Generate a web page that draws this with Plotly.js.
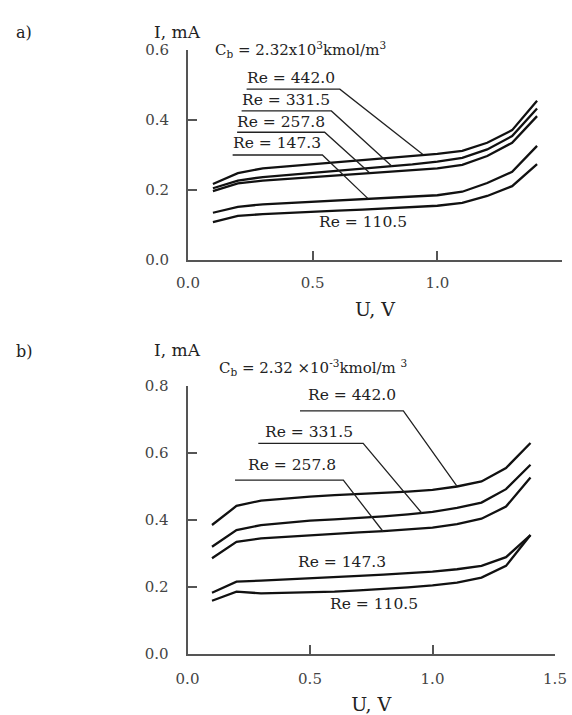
<!DOCTYPE html>
<html>
<head>
<meta charset="utf-8">
<script src="https://cdn.plot.ly/plotly-3.0.1.min.js"></script>
<style>html,body{margin:0;padding:0;background:#fff;}#chart{width:572px;height:715px;}</style>
</head>
<body>
<div id="chart"></div>
<script>
// ---- data ----
const voltage = [0.1, 0.2, 0.3, 0.4, 0.5, 0.6, 0.7, 0.8, 0.9, 1.0, 1.1, 1.2, 1.3, 1.4];
const reynolds = ["442.0", "331.5", "257.8", "147.3", "110.5"];

// panel a) current, mA
const a_Re442 = [0.217, 0.248, 0.262, 0.268, 0.274, 0.280, 0.286, 0.292, 0.298, 0.303, 0.312, 0.335, 0.371, 0.455];
const a_Re331 = [0.205, 0.227, 0.237, 0.243, 0.248, 0.253, 0.259, 0.266, 0.273, 0.281, 0.292, 0.316, 0.354, 0.433];
const a_Re258 = [0.197, 0.219, 0.227, 0.232, 0.236, 0.240, 0.245, 0.250, 0.256, 0.262, 0.272, 0.297, 0.335, 0.411];
const a_Re147 = [0.135, 0.152, 0.159, 0.163, 0.167, 0.170, 0.173, 0.177, 0.181, 0.185, 0.195, 0.220, 0.252, 0.326];
const a_Re110 = [0.108, 0.126, 0.131, 0.135, 0.138, 0.141, 0.144, 0.147, 0.151, 0.155, 0.163, 0.183, 0.211, 0.274];

// panel b) current, mA
const b_Re442 = [0.385, 0.442, 0.458, 0.465, 0.470, 0.474, 0.477, 0.481, 0.485, 0.490, 0.500, 0.515, 0.555, 0.630];
const b_Re331 = [0.320, 0.370, 0.385, 0.392, 0.398, 0.402, 0.406, 0.411, 0.417, 0.424, 0.436, 0.452, 0.492, 0.565];
const b_Re258 = [0.286, 0.335, 0.345, 0.350, 0.355, 0.359, 0.363, 0.367, 0.371, 0.377, 0.388, 0.404, 0.440, 0.527];
const b_Re147 = [0.183, 0.216, 0.219, 0.222, 0.226, 0.229, 0.233, 0.237, 0.241, 0.246, 0.253, 0.263, 0.289, 0.355];
const b_Re110 = [0.159, 0.186, 0.181, 0.182, 0.183, 0.186, 0.190, 0.194, 0.199, 0.205, 0.213, 0.228, 0.263, 0.355];

const xTicks = [0, 0.5, 1.0, 1.5];
const xTickText = ["0.0", "0.5", "1.0", "1.5"];
const aYTicks = [0, 0.2, 0.4, 0.6];
const bYTicks = [0, 0.2, 0.4, 0.6, 0.8];

// ---- label placement (data coords of each panel): text pos, underline x-span, underline y, leader end ----
const aLabels = [
  {t: 0, tx: 0.415, ty: 0.519, ux0: 0.235, ux1: 0.609, uy: 0.488, ex: 0.941, ey: 0.302},
  {t: 1, tx: 0.392, ty: 0.457, ux0: 0.215, ux1: 0.575, uy: 0.426, ex: 0.819, ey: 0.267},
  {t: 2, tx: 0.371, ty: 0.395, ux0: 0.197, ux1: 0.548, uy: 0.365, ex: 0.728, ey: 0.249},
  {t: 3, tx: 0.355, ty: 0.333, ux0: 0.179, ux1: 0.539, uy: 0.300, ex: 0.721, ey: 0.176},
  {t: 4, tx: 0.701, ty: 0.109}
];
const bLabels = [
  {t: 0, tx: 0.670, ty: 0.773, ux0: 0.459, ux1: 0.881, uy: 0.726, ex: 1.099, ey: 0.502},
  {t: 1, tx: 0.497, ty: 0.664, ux0: 0.289, ux1: 0.717, uy: 0.629, ex: 0.956, ey: 0.421},
  {t: 2, tx: 0.425, ty: 0.564, ux0: 0.194, ux1: 0.636, uy: 0.519, ex: 0.799, ey: 0.365},
  {t: 3, tx: 0.629, ty: 0.276},
  {t: 4, tx: 0.761, ty: 0.149}
];

const SERIF = "DejaVu Serif, Liberation Serif, serif";
const curveLine = {color: "#111", width: 2.3, shape: "linear"};

const aSeries = [a_Re442, a_Re331, a_Re258, a_Re147, a_Re110];
const bSeries = [b_Re442, b_Re331, b_Re258, b_Re147, b_Re110];

const traces = [];
aSeries.forEach((ys, i) => traces.push({x: voltage, y: ys, xaxis: "x", yaxis: "y", mode: "lines",
  line: curveLine, name: "a) Re = " + reynolds[i], hoverinfo: "x+y"}));
bSeries.forEach((ys, i) => traces.push({x: voltage, y: ys, xaxis: "x2", yaxis: "y2", mode: "lines",
  line: curveLine, name: "b) Re = " + reynolds[i], hoverinfo: "x+y"}));

const annotations = [];
const shapes = [];
function addLabels(list, xr, yr) {
  list.forEach(L => {
    annotations.push({xref: xr, yref: yr, x: L.tx, y: L.ty, text: "Re = " + reynolds[L.t], showarrow: false,
      xanchor: "center", yanchor: "middle", font: {family: SERIF, size: 15.5, color: "#222"}});
    if (L.ux0 !== undefined) {
      shapes.push({type: "path", xref: xr, yref: yr,
        path: "M " + L.ux0 + "," + L.uy + " L " + L.ux1 + "," + L.uy + " L " + L.ex + "," + L.ey,
        line: {color: "#222", width: 1.3}});
    }
  });
}
addLabels(aLabels, "x", "y");
addLabels(bLabels, "x2", "y2");

// panel markers, axis titles (I), concentration notes
const W = 572, H = 715;
function px(x) { return x / W; }
function py(y) { return 1 - y / H; }
annotations.push(
  {xref: "paper", yref: "paper", x: px(14), y: py(21), text: "a)", showarrow: false, font: {family: SERIF, size: 16, color: "#222"}},
  {xref: "paper", yref: "paper", x: px(14), y: py(351), text: "b)", showarrow: false, font: {family: SERIF, size: 16, color: "#222"}},
  {xref: "paper", yref: "paper", x: px(152), y: py(20), text: "I, mA", showarrow: false, font: {family: SERIF, size: 17, color: "#222"}},
  {xref: "paper", yref: "paper", x: px(152), y: py(350), text: "I, mA", showarrow: false, font: {family: SERIF, size: 17, color: "#222"}},
  {xref: "paper", yref: "paper", x: px(300), y: py(37), text: "C<sub>b</sub> = 2.32x10<sup>3</sup>kmol/m<sup>3</sup>", showarrow: false, font: {family: SERIF, size: 15, color: "#222"}},
  {xref: "paper", yref: "paper", x: px(313), y: py(367), text: "C<sub>b</sub> = 2.32 ×10<sup>-3</sup>kmol/m <sup>3</sup>", showarrow: false, font: {family: SERIF, size: 15, color: "#222"}}
);

const axisCommon = {
  showline: true, linecolor: "#555", linewidth: 2,
  ticks: "inside", ticklen: 9, tickwidth: 2, tickcolor: "#555",
  showgrid: false, zeroline: false, fixedrange: true,
  tickfont: {family: SERIF, size: 15, color: "#444"}
};

const layout = {
  width: W, height: H,
  margin: {l: 0, r: 0, t: 0, b: 0},
  paper_bgcolor: "#fff", plot_bgcolor: "#fff",
  showlegend: false,
  xaxis: Object.assign({}, axisCommon, {domain: [px(188), px(562)], anchor: "y", range: [0, 1.5],
    tickvals: xTicks, ticktext: xTickText, ticklabelstandoff: 8,
    title: {text: "U, V", font: {family: SERIF, size: 19, color: "#222"}, standoff: 12}}),
  yaxis: Object.assign({}, axisCommon, {domain: [1 - 260 / H, 1 - 50 / H], anchor: "x", range: [0, 0.6],
    tickvals: aYTicks, tickformat: ".1f", ticklabelstandoff: 14}),
  xaxis2: Object.assign({}, axisCommon, {domain: [px(187.5), px(555)], anchor: "y2", range: [0, 1.5],
    tickvals: xTicks, ticktext: xTickText, ticklabelstandoff: 10,
    title: {text: "U, V", font: {family: SERIF, size: 19, color: "#222"}, standoff: 12}}),
  yaxis2: Object.assign({}, axisCommon, {domain: [1 - 654 / H, 1 - 386 / H], anchor: "x2", range: [0, 0.8],
    tickvals: bYTicks, tickformat: ".1f", ticklabelstandoff: 14}),
  annotations: annotations,
  shapes: shapes
};

Plotly.newPlot("chart", traces, layout, {displayModeBar: false, staticPlot: true});
</script>
</body>
</html>
